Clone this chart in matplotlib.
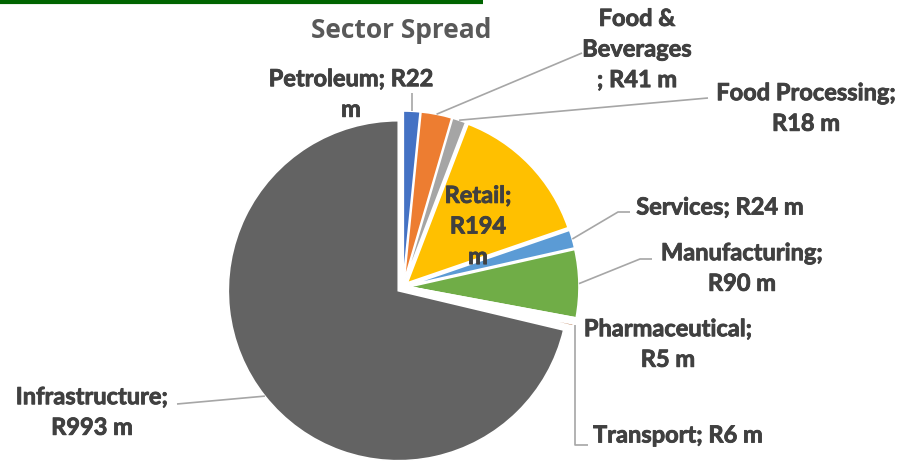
import numpy as np
import matplotlib
matplotlib.use('Agg')
import matplotlib.pyplot as plt
import matplotlib.patheffects as pe

# Data
sectors = ["Petroleum", "Food & Beverages", "Food Processing", "Retail", "Services",
           "Manufacturing", "Pharmaceutical", "Transport", "Infrastructure"]
values = [22, 41, 18, 194, 24, 90, 5, 6, 993]
label_texts = ["Petroleum; R22\nm", "Food &\nBeverages\n; R41 m", "Food Processing;\nR18 m",
               "Retail;\nR194\nm", "Services; R24 m", "Manufacturing;\nR90 m",
               "Pharmaceutical;\nR5 m", "Transport; R6 m", "Infrastructure;\nR993 m"]
colors = ["#4472C4", "#ED7D31", "#A5A5A5", "#FFC000", "#5B9BD5",
          "#70AD47", "#264478", "#9E480E", "#636363"]

W, H = 900, 462
def Y(y):
    # image rows -> plot coords
    return H - y

fig = plt.figure(figsize=(9, 4.62), dpi=100)
ax = fig.add_axes([0, 0, 1, 1])

cx, cy, R, ex = 403, Y(287), 170, 6
wedges, _ = ax.pie(values, colors=colors, startangle=90, counterclock=False,
                   explode=[ex] * len(values), radius=R, center=(cx, cy), frame=True,
                   wedgeprops=dict(edgecolor="white", linewidth=1.2))
# the two tiny slices are barely visible in the original
for w in wedges[6:8]:
    w.set_linewidth(3)
ax.set_xlim(0, W)
ax.set_ylim(0, H)
ax.set_aspect("equal")
ax.axis("off")

# mid angle of each slice (clockwise from top) -> anchor on the outer arc
cum = np.cumsum(values) / np.sum(values) * 360
mid = cum - np.array(values) / np.sum(values) * 180
theta = np.deg2rad(90 - mid)
anchors = [(cx + (R + ex) * np.cos(t), cy + (R + ex) * np.sin(t)) for t in theta]

# label centres (image coords) and leader line bends
label_pos = [(351, 94), (637, 49), (806, 108), (478, 226), (720, 207),
             (742, 268), (668, 344), (678, 435), (92, 412)]
leaders = {
    0: [(None, 93)],
    1: [(582, 53)],
    2: [(708, 98)],
    4: [(618, 212), (630, 212)],
    5: [(640, 259), (652, 259)],
    7: [(None, 445), (588, 445)],
    8: [(177, 404)],
}

txt_color = "#404040"
thick = [pe.withStroke(linewidth=0.6, foreground=txt_color)]
for i, (lab, (lx, ly)) in enumerate(zip(label_texts, label_pos)):
    ax.text(lx, Y(ly), lab, ha="center", va="center", fontsize=17,
            fontweight="bold", color=txt_color, family="Lato", linespacing=1.4,
            path_effects=thick)
    if i in leaders:
        ax0, ay0 = anchors[i]
        xs, ys = [ax0], [ay0]
        for px, py in leaders[i]:
            xs.append(ax0 if px is None else px)
            ys.append(Y(py))
        ax.plot(xs, ys, color="#A6A6A6", lw=1.2, solid_capstyle="butt")

ax.text(401, Y(31), "Sector Spread", ha="center", va="center", fontsize=19,
        fontweight="bold", color="#595959", family="Open Sans")

# green rule at the top
ax.plot([0, 483], [Y(1.5), Y(1.5)], color="#006400", lw=3, solid_capstyle="butt")

fig.savefig("out.png", dpi=100)
